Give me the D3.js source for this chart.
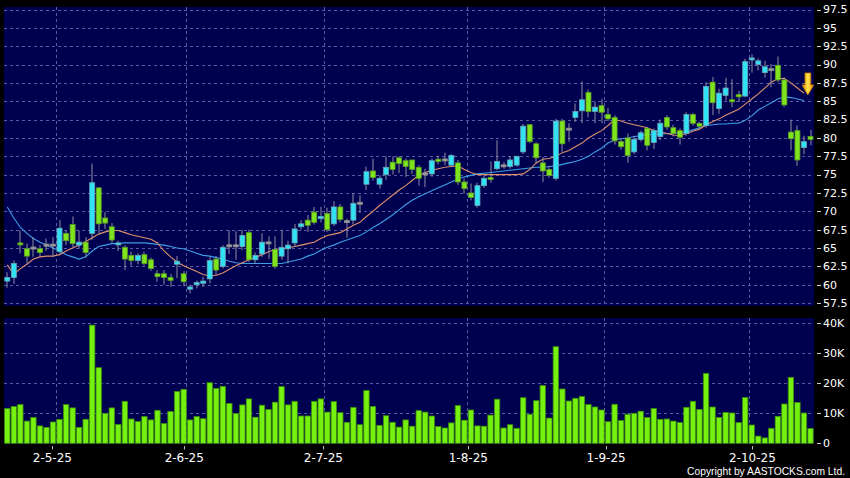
<!DOCTYPE html>
<html><head><meta charset="utf-8">
<script src="https://cdn.jsdelivr.net/npm/d3@7"></script>
<style>html,body{margin:0;padding:0;background:#000;}svg{display:block}</style>
</head><body>
<svg id="c" width="850" height="478"></svg>
<script>
// ---- data ----
const openP = [60.5,61.0,65.7,64.9,65.0,64.9,65.4,65.4,64.5,67.0,
68.2,65.4,65.8,67.0,73.2,69.1,67.9,65.5,65.1,64.0,
63.3,64.1,63.4,61.5,61.5,61.0,62.8,61.5,59.4,60.0,
60.2,60.8,63.5,62.5,65.3,65.3,65.2,67.1,63.4,64.2,
65.7,64.8,63.9,64.9,65.7,67.9,68.8,69.9,69.0,69.7,
68.3,70.6,68.6,68.8,71.1,73.7,75.5,73.7,75.0,76.7,
77.3,76.9,77.0,76.0,75.1,75.1,77.1,77.0,76.3,76.6,
74.0,72.5,70.8,73.5,74.6,75.8,76.2,76.1,76.3,78.1,
81.8,79.2,76.6,75.7,74.5,82.3,81.2,82.8,83.7,86.2,
83.6,84.4,83.2,82.8,79.5,80.0,78.1,79.8,81.3,79.4,
80.2,82.8,81.4,81.0,80.6,83.2,82.0,81.7,87.6,84.0,
85.8,85.2,85.9,85.7,90.7,90.0,88.9,89.3,89.9,87.9,
80.8,81.0,78.7,80.2];
const highP = [61.7,63.3,67.4,65.6,66.5,65.4,66.3,66.5,68.8,67.4,
69.3,67.4,66.5,76.5,73.3,69.9,68.4,66.0,65.4,64.5,
64.3,64.5,63.7,62.0,62.0,61.5,63.9,61.9,60.0,60.6,
61.1,63.8,63.9,65.4,67.4,67.3,67.5,67.5,64.4,67.0,
66.6,66.6,67.5,66.0,68.3,68.8,69.5,70.6,70.6,70.5,
71.4,71.0,69.0,72.5,72.2,76.1,77.2,74.9,77.5,77.5,
77.5,77.2,77.0,76.3,75.8,77.2,77.6,78.0,77.8,77.0,
74.5,73.8,73.9,74.8,76.8,79.7,76.7,77.5,77.5,81.9,
81.9,79.4,77.4,76.2,82.6,82.6,82.0,84.7,87.7,86.6,
84.9,85.3,84.1,83.1,80.0,80.6,80.3,81.0,81.5,81.3,
82.5,83.1,81.8,81.3,83.5,83.4,82.2,87.6,88.3,86.7,
88.2,88.0,86.4,90.8,91.4,90.8,90.5,90.1,91.1,88.3,
82.5,81.7,80.3,81.1];
const lowP = [59.6,60.1,64.3,62.9,63.8,63.8,64.6,63.8,64.0,65.4,
65.1,64.9,63.7,66.1,67.0,67.6,65.7,64.6,62.0,62.6,
62.8,62.6,61.9,60.4,60.0,59.7,60.9,59.8,58.8,59.5,
59.7,60.2,61.3,62.2,64.2,63.4,64.7,63.1,62.9,63.8,
63.5,62.2,63.4,62.9,65.2,67.5,67.2,68.2,68.5,67.2,
68.0,68.5,66.4,68.2,69.8,72.9,74.2,73.1,74.3,75.0,
75.2,74.7,75.1,73.5,73.3,74.7,76.4,76.3,76.1,73.6,
72.4,71.5,70.5,73.2,73.9,75.6,75.8,75.8,76.1,77.8,
79.3,76.5,74.0,74.6,74.2,78.1,79.5,82.2,82.0,82.8,
82.0,82.0,82.3,79.1,78.4,76.6,77.8,79.5,78.3,78.5,
79.7,81.1,80.2,79.1,80.3,81.7,81.4,81.4,83.1,83.3,
85.1,84.2,84.9,85.6,88.9,89.2,88.2,86.9,87.6,84.2,
78.3,76.2,77.8,79.0];
const closeP = [61.0,62.9,65.5,63.9,65.0,64.4,65.4,65.4,67.7,66.0,
65.6,65.8,64.4,73.9,68.3,68.4,66.1,65.7,63.5,63.3,
64.0,62.9,62.2,61.1,61.0,60.6,63.2,60.4,59.7,60.3,
60.5,63.3,62.0,65.1,65.3,65.3,66.7,63.4,64.0,65.8,
65.7,62.5,65.1,65.4,67.6,68.3,68.1,68.5,69.3,67.5,
70.6,68.9,68.6,71.1,71.1,75.4,74.6,74.5,76.0,75.7,
76.5,76.1,75.7,74.5,75.1,76.9,76.8,77.0,77.6,74.0,
73.1,71.9,73.5,74.5,74.4,76.8,76.2,77.0,77.5,81.6,
79.5,77.3,75.5,74.9,82.3,79.2,81.2,83.6,85.2,83.6,
84.2,83.5,82.6,79.6,78.8,77.6,79.8,80.7,79.0,81.0,
82.0,81.5,80.6,80.1,83.2,82.0,81.6,87.0,84.8,86.1,
86.8,85.0,85.6,90.4,90.9,90.5,89.7,89.3,87.9,84.5,
79.9,77.0,79.5,79.8];
// volume in thousands
const volumeK = [11.6,12.3,12.9,7.4,8.6,5.8,5.3,7.1,8.0,12.9,
11.8,5.3,8.0,39.4,25.2,10.0,11.8,6.3,14.0,8.1,
7.3,8.9,7.8,11.0,6.6,10.6,17.3,18.0,7.8,8.9,
8.2,20.2,18.3,19.0,13.3,9.9,12.8,14.8,8.7,12.7,
11.3,13.7,18.9,12.8,14.0,9.1,9.1,14.0,14.8,10.4,
13.9,10.2,7.0,12.0,6.2,17.6,12.3,6.0,9.2,7.0,
5.4,7.8,5.7,10.9,10.4,9.1,5.6,5.1,6.8,12.6,
7.7,11.1,5.8,5.7,9.4,14.7,5.1,6.2,5.0,15.2,
9.7,14.2,19.3,8.4,32.2,18.1,14.1,15.0,15.6,12.9,
12.1,11.1,7.2,13.0,7.6,9.7,10.0,10.7,8.6,11.6,
8.0,8.1,7.4,6.9,12.0,14.0,11.3,23.3,12.1,8.6,
10.3,10.1,6.9,15.3,6.1,2.4,1.8,5.0,9.0,13.1,
22.0,13.6,10.1,4.9];
const maShort = [62.7,61.4,62.2,62.8,63.5,63.8,63.9,63.9,64.1,64.6,
65.0,65.4,65.9,66.4,66.9,67.2,67.4,67.4,67.1,66.8,
66.6,66.4,66.2,65.7,64.6,63.8,63.1,62.6,62.2,61.8,
61.4,61.2,61.3,61.6,62.1,62.6,63.0,63.4,63.7,64.1,
64.5,64.8,64.9,65.0,65.2,65.4,65.6,65.8,66.3,66.7,
66.9,67.1,67.6,68.1,68.5,69.3,70.0,70.8,71.5,72.2,
72.9,73.5,74.2,74.9,75.3,75.6,75.8,76.0,76.1,76.2,
75.7,75.3,75.0,75.0,75.0,75.0,75.0,75.0,75.0,75.1,
75.7,76.6,77.1,77.2,77.5,78.0,78.3,78.8,79.3,80.0,
80.5,81.0,81.7,82.5,82.3,82.0,81.8,81.6,81.4,81.0,
80.8,80.6,80.4,80.3,80.6,80.9,81.2,81.8,82.2,82.6,
83.1,83.5,83.9,84.6,85.3,86.0,86.8,87.6,88.1,88.1,
87.5,86.8,86.1,null];
const maLong = [70.6,69.1,67.8,67.0,66.3,65.8,65.4,65.0,64.6,64.1,
63.8,63.5,63.8,64.6,65.2,65.4,65.6,65.6,65.7,65.7,
65.7,65.7,65.6,65.5,65.4,65.2,65.0,64.9,64.6,64.3,
64.0,63.9,63.7,63.5,63.2,63.0,62.9,62.9,62.9,62.9,
62.9,62.9,62.9,63.1,63.3,63.5,63.9,64.2,64.7,65.1,
65.4,65.8,66.1,66.4,66.7,67.2,67.8,68.3,68.9,69.5,
70.2,70.9,71.5,72.0,72.4,72.8,73.2,73.6,74.0,74.4,
74.7,74.9,75.1,75.2,75.3,75.4,75.5,75.6,75.7,75.8,
75.9,76.0,76.0,76.1,76.2,76.4,76.6,76.8,77.1,77.5,
78.1,78.6,79.3,79.7,79.9,80.0,80.2,80.3,80.4,80.5,
80.5,80.6,80.6,80.7,80.8,81.1,81.4,81.7,81.8,81.9,
81.9,82.0,82.0,82.4,83.0,83.8,84.3,84.8,85.3,85.6,
85.5,85.3,85.1,null];
const priceTicks = [57.5,60,62.5,65,67.5,70,72.5,75,77.5,80,82.5,85,87.5,90,92.5,95,97.5];
const priceTickLabels = ["57.5","60","62.5","65","67.5","70","72.5","75","77.5","80","82.5","85","87.5","90","92.5","95","97.5"];
const volTicks = [0,10,20,30,40];
const volTickLabels = ["0","10K","20K","30K","40K"];
const dateLabels = ["2-5-25","2-6-25","2-7-25","1-8-25","1-9-25","2-10-25"];
const dateLabelAt = [6.9,27.1,48.4,70.6,91.7,114.1];   // bar-index units
const dateGridAt = [7.5,27.4,48.55,70.45,91.4,113.55]; // bar-index units
const arrowMark = {at:122.6, top:88.85, tip:85.85};
const copyright = "Copyright by AASTOCKS.com Ltd.";

// ---- drawing ----
const svg = d3.select('#c');
const W = 850, H = 478;
svg.append('rect').attr('width',W).attr('height',H).attr('fill','#000');

const N = openP.length;
const x = d3.scaleLinear().domain([0, N-1]).range([7.3, 810.5]);
const yP = d3.scaleLinear().domain([57.5, 97.5]).range([303.1, 9.5]);
const yV = d3.scaleLinear().domain([0, 40]).range([443.3, 323.3]);

const pP = {x0:4, x1:814, y0:7, y1:306};
const pV = {x0:4, x1:814, y0:318, y1:444};
const navy = '#000050';
[pP, pV].forEach(p => svg.append('rect').attr('x',p.x0).attr('y',p.y0)
  .attr('width',p.x1-p.x0).attr('height',p.y1-p.y0).attr('fill',navy));

const gridCol = '#5a5aa2';
const crisp = v => Math.round(v) + 0.5;
const grid = svg.append('g').attr('stroke',gridCol).attr('stroke-width',1).attr('stroke-dasharray','3,3');
grid.selectAll('.hp').data(priceTicks).join('line')
  .attr('x1',pP.x0).attr('x2',pP.x1).attr('y1',d=>crisp(yP(d))).attr('y2',d=>crisp(yP(d)));
grid.selectAll('.hv').data(volTicks.filter(v=>v>0)).join('line')
  .attr('x1',pV.x0).attr('x2',pV.x1).attr('y1',d=>crisp(yV(d))).attr('y2',d=>crisp(yV(d)));
[pP, pV].forEach(p => {
  grid.append('g').selectAll('line').data(dateGridAt).join('line')
    .attr('x1',d=>crisp(x(d))).attr('x2',d=>crisp(x(d))).attr('y1',p.y0).attr('y2',p.y1);
});

// volume bars
const vw = 5.4;
svg.append('g').selectAll('rect').data(volumeK).join('rect')
  .attr('x',(d,i)=>x(i)-vw/2).attr('width',vw)
  .attr('y',d=>yV(d)).attr('height',d=>yV(0)-yV(d))
  .attr('fill','#76f00e').attr('stroke','#3a8c0c').attr('stroke-width',0.8);

// moving averages
const line = d3.line().defined(d=>d!=null).x((d,i)=>x(i)).y(d=>yP(d));
svg.append('path').attr('d',line(maLong)).attr('fill','none').attr('stroke','#3d9fe6').attr('stroke-width',1.1);
svg.append('path').attr('d',line(maShort)).attr('fill','none').attr('stroke','#e0906a').attr('stroke-width',1.1);

// candles
const idx = d3.range(N);
const cg = svg.append('g');
cg.selectAll('line').data(idx).join('line')
  .attr('x1',i=>crisp(x(i))-0.5).attr('x2',i=>crisp(x(i))-0.5)
  .attr('y1',i=>yP(highP[i])).attr('y2',i=>yP(lowP[i]))
  .attr('stroke','#8e8ea4').attr('stroke-width',1);
const bw = 5;
const isDoji = i => Math.abs(openP[i]-closeP[i]) < 0.05;
cg.selectAll('rect').data(idx).join('rect')
  .attr('x',i=>x(i)-bw/2).attr('width',bw)
  .attr('y',i=>{const t=yP(Math.max(openP[i],closeP[i])); return isDoji(i) ? t-1 : t;})
  .attr('height',i=>Math.max(Math.abs(yP(openP[i])-yP(closeP[i])),2))
  .attr('fill',i=> isDoji(i) ? '#a4a4a4' : (closeP[i]>openP[i] ? '#30e2f4' : '#7ee41e'))
  .attr('stroke',i=> isDoji(i) ? '#8a8a8a' : (closeP[i]>openP[i] ? '#6aa6b6' : '#5a9e22'))
  .attr('stroke-width',0.8);

// arrow
const defs = svg.append('defs');
const gr = defs.append('linearGradient').attr('id','ag').attr('x1','0').attr('x2','1').attr('y1','0').attr('y2','0');
gr.append('stop').attr('offset','0').attr('stop-color','#e88a00');
gr.append('stop').attr('offset','0.5').attr('stop-color','#ffe44a');
gr.append('stop').attr('offset','1').attr('stop-color','#e88a00');
const ax = x(arrowMark.at), at = yP(arrowMark.top), ab = yP(arrowMark.tip);
const hh = 10, sw = 2.9, hw = 5.8;
svg.append('path')
  .attr('d',`M${ax-sw},${at} L${ax+sw},${at} L${ax+sw},${ab-hh} L${ax+hw},${ab-hh} L${ax},${ab} L${ax-hw},${ab-hh} L${ax-sw},${ab-hh} Z`)
  .attr('fill','url(#ag)').attr('stroke','#c87800').attr('stroke-width',0.8);

// right axes
const axg = svg.append('g').attr('font-family','DejaVu Sans, Verdana, sans-serif').attr('font-size',11).attr('fill','#fff');
axg.selectAll('.pl').data(priceTicks).join('text')
  .attr('x',823).attr('y',d=>yP(d)+3.8).text((d,i)=>priceTickLabels[i]);
axg.selectAll('.vl').data(volTicks).join('text')
  .attr('x',823).attr('y',d=>yV(d)+3.8).text((d,i)=>volTickLabels[i]);
const tk = svg.append('g').attr('stroke','#d0d0d0').attr('stroke-width',1);
tk.selectAll('.pt').data(priceTicks).join('line')
  .attr('x1',817).attr('x2',821).attr('y1',d=>crisp(yP(d))).attr('y2',d=>crisp(yP(d)));
tk.selectAll('.vt').data(volTicks).join('line')
  .attr('x1',817).attr('x2',821).attr('y1',d=>crisp(yV(d))).attr('y2',d=>crisp(yV(d)));

// x axis
tk.selectAll('.xt').data(dateLabelAt).join('line')
  .attr('x1',d=>crisp(x(d))).attr('x2',d=>crisp(x(d))).attr('y1',446).attr('y2',449.5)
  .attr('stroke','#bbbbbb');
svg.append('g').attr('font-family','DejaVu Sans, Verdana, sans-serif').attr('font-size',12).attr('fill','#fff')
  .attr('text-anchor','middle')
  .selectAll('text').data(dateLabelAt).join('text')
  .attr('x',d=>x(d)).attr('y',461.6).text((d,i)=>dateLabels[i]);

// copyright (narrowed to the reference's width with a horizontal scale)
const cp = svg.append('g');
const ct = cp.append('text').attr('x',0).attr('y',0).attr('text-anchor','end')
  .attr('font-family','Liberation Sans, Arial, sans-serif').attr('font-size',10.8).attr('fill','#fff')
  .text(copyright);
const natural = ct.node().getComputedTextLength();
const sx = Math.min(1, 158 / natural);
cp.attr('transform',`translate(845,474.8) scale(${sx},1)`);
</script>
</body></html>
